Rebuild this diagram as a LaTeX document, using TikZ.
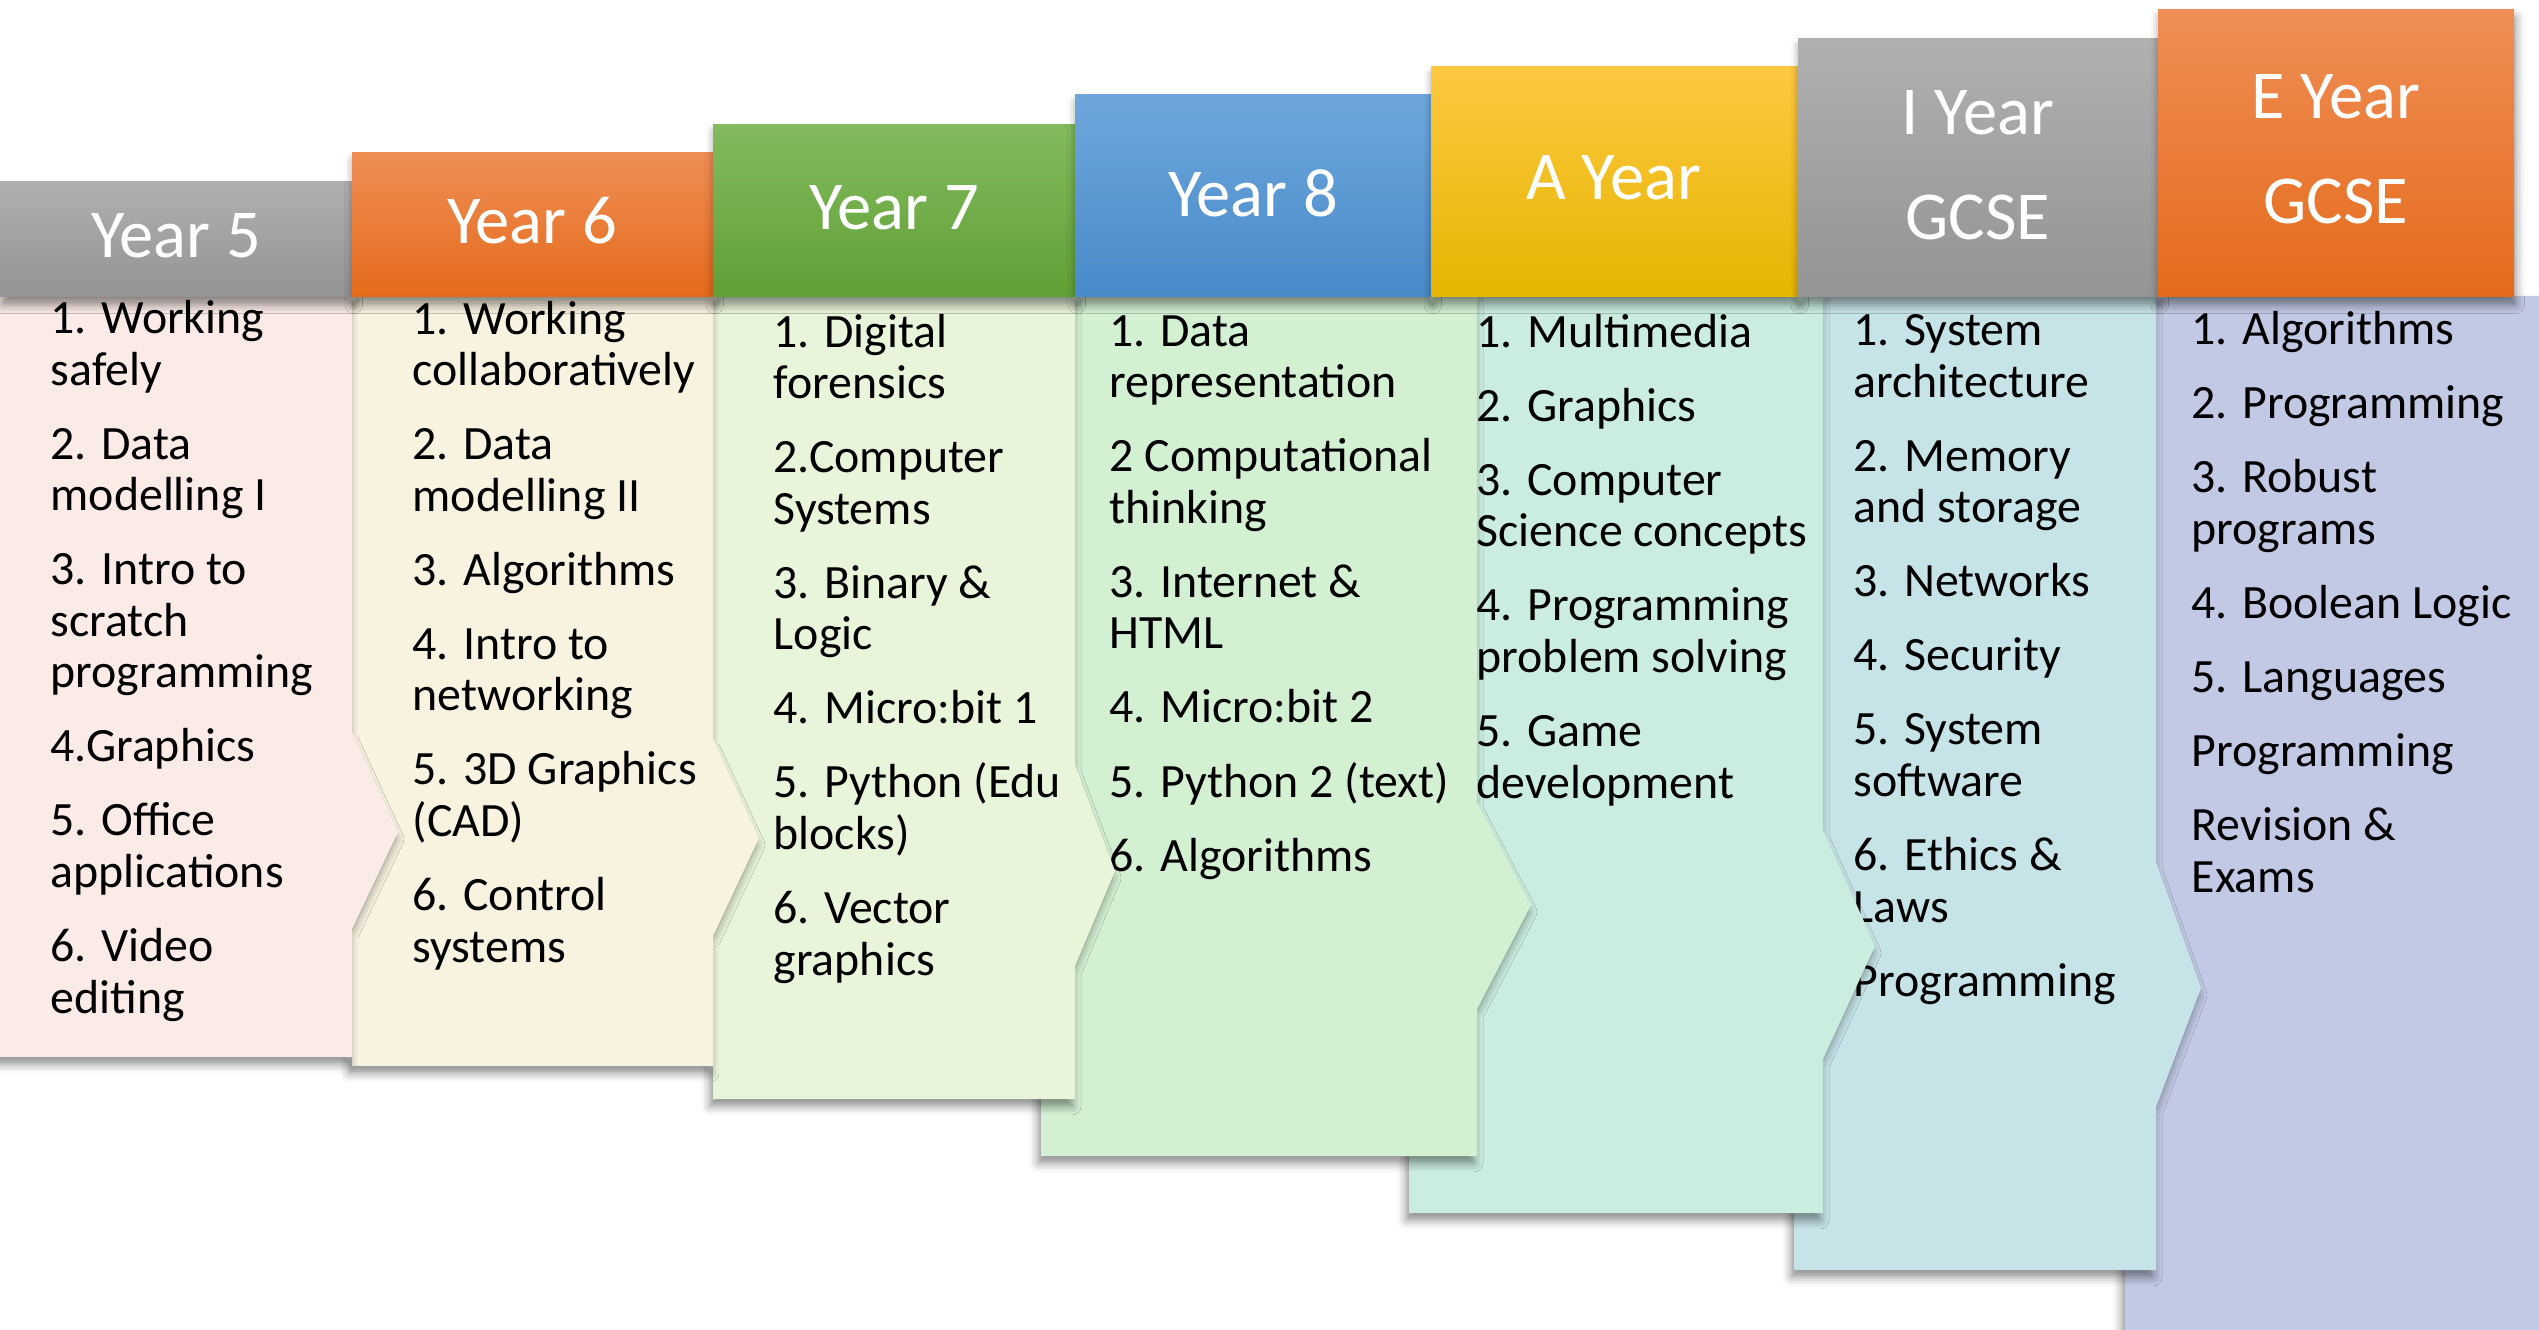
\documentclass[tikz,border=0pt]{standalone}
\usepackage{fontspec}
\setmainfont{Carlito}
\usetikzlibrary{shadows.blur}
% header colours (top / bottom of the gradient)
\definecolor{grayA}{RGB}{176,176,176}
\definecolor{grayB}{RGB}{148,148,148}
\definecolor{orA}{RGB}{240,142,86}
\definecolor{orB}{RGB}{228,107,27}
\definecolor{grA}{RGB}{131,187,94}
\definecolor{grB}{RGB}{96,160,54}
\definecolor{blA}{RGB}{111,167,221}
\definecolor{blB}{RGB}{71,138,201}
\definecolor{goA}{RGB}{254,200,66}
\definecolor{goB}{RGB}{230,181,0}
% body colours
\definecolor{pink}{RGB}{251,235,231}
\definecolor{cream}{RGB}{248,242,224}
\definecolor{lgreen}{RGB}{233,245,218}
\definecolor{mgreen}{RGB}{212,240,211}
\definecolor{mint}{RGB}{203,237,223}
\definecolor{lblue}{RGB}{198,227,232}
\definecolor{lav}{RGB}{193,201,228}

\begin{document}
\begin{tikzpicture}[x=0.01cm,y=-0.01cm,
    body/.style={blur shadow={shadow xshift=-0.8pt,shadow yshift=-2pt,shadow blur radius=2.5pt,shadow opacity=45}},
    head/.style={blur shadow={shadow xshift=0.5pt,shadow yshift=-2.5pt,shadow blur radius=2.5pt,shadow opacity=45}},
    yeartxt/.style={text=white,align=center,inner sep=0pt,font=\fontsize{19.5}{30}\selectfont},
    topics/.style={anchor=base west,align=left,inner sep=0pt,font=\fontsize{13.6}{14.65}\selectfont}]
    \useasboundingbox (0,0) rectangle (2539,1329);
    \clip (0,0) rectangle (2539,1329);

    % bodies, right to left so that each tip lies over the next one
    % (topic lists are placed by the baseline of their last line)
    \fill[lav,body] (2125,296) -- (2600,296) -- (2600,1400) -- (2125,1400) -- cycle;
    \node[topics] (tE) at (2191,892) {1. Algorithms\\[6.4pt]2. Programming\\[6.4pt]3. Robust\\programs\\[6.4pt]4. Boolean Logic\\[6.4pt]5. Languages\\[6.4pt]Programming\\[6.4pt]Revision \&\\Exams};

    \fill[lblue,body] (1794,296) -- (2156,296) -- (2156,862) -- (2201,988) -- (2156,1107) -- (2156,1270) -- (1794,1270) -- cycle;
    \node[topics] (tI) at (1853,996) {1. System\\architecture\\[6.4pt]2. Memory\\and storage\\[6.4pt]3. Networks\\[6.4pt]4. Security\\[6.4pt]5. System\\software\\[6.4pt]6. Ethics \&\\Laws\\[6.4pt]Programming};

    \fill[mint,body] (1409,296) -- (1823,296) -- (1823,830) -- (1875,946) -- (1823,1059) -- (1823,1213) -- (1409,1213) -- cycle;
    \node[topics] (tA) at (1476,798) {1. Multimedia\\[6.4pt]2. Graphics\\[6.4pt]3. Computer\\Science concepts\\[6.4pt]4. Programming\\problem solving\\[6.4pt]5. Game\\development};

    \fill[mgreen,body] (1041,296) -- (1477,296) -- (1477,802) -- (1531,905) -- (1477,1009) -- (1477,1156) -- (1041,1156) -- cycle;
    \node[topics] (t8) at (1109,871) {1. Data\\representation\\[6.4pt]2 Computational\\thinking\\[6.4pt]3. Internet \&\\HTML\\[6.4pt]4. Micro:bit 2\\[6.4pt]5. Python 2 (text)\\[6.4pt]6. Algorithms};

    \fill[lgreen,body] (713,296) -- (1075,296) -- (1075,765) -- (1115,871) -- (1075,966) -- (1075,1099) -- (713,1099) -- cycle;
    \node[topics] (t7) at (773,975) {1. Digital\\forensics\\[6.4pt]2.Computer\\Systems\\[6.4pt]3. Binary \&\\Logic\\[6.4pt]4. Micro:bit 1\\[6.4pt]5. Python (Edu\\blocks)\\[6.4pt]6. Vector\\graphics};

    \fill[cream,body] (352,296) -- (713,296) -- (713,739) -- (759,838) -- (713,936) -- (713,1066) -- (352,1066) -- cycle;
    \node[topics] (t6) at (412,962) {1. Working\\collaboratively\\[6.4pt]2. Data\\modelling II\\[6.4pt]3. Algorithms\\[6.4pt]4. Intro to\\networking\\[6.4pt]5. 3D Graphics\\(CAD)\\[6.4pt]6. Control\\systems};

    \fill[pink,body] (-20,296) -- (352,296) -- (352,732) -- (398,832) -- (352,929) -- (352,1057) -- (-20,1057) -- cycle;
    \node[topics] (t5) at (50,1013) {1. Working\\safely\\[6.4pt]2. Data\\modelling I\\[6.4pt]3. Intro to\\scratch\\programming\\[6.4pt]4.Graphics\\[6.4pt]5. Office\\applications\\[6.4pt]6. Video\\editing};

    % year headers
    \shade[top color=grayA,bottom color=grayB,head] (0,181) rectangle (352,296);
    \node[yeartxt] (h5) at (176,236) {Year 5};
    \shade[top color=orA,bottom color=orB,head] (352,152) rectangle (713,296);
    \node[yeartxt] (h6) at (532,221) {Year 6};
    \shade[top color=grA,bottom color=grB,head] (713,124) rectangle (1075,296);
    \node[yeartxt] (h7) at (894,208) {Year 7};
    \shade[top color=blA,bottom color=blB,head] (1075,94) rectangle (1431,296);
    \node[yeartxt] (h8) at (1253,193) {Year 8};
    \shade[top color=goA,bottom color=goB,head] (1431,66) rectangle (1798,296);
    \node[yeartxt] (hA) at (1614,178) {A Year};
    \shade[top color=grayA,bottom color=grayB,head] (1798,38) rectangle (2158,296);
    \node[yeartxt] (hI) at (1978,165) {I Year\\GCSE};
    \shade[top color=orA,bottom color=orB,head] (2158,9) rectangle (2514,296);
    \node[yeartxt] (hE) at (2336,149) {E Year\\GCSE};
\end{tikzpicture}
\end{document}
